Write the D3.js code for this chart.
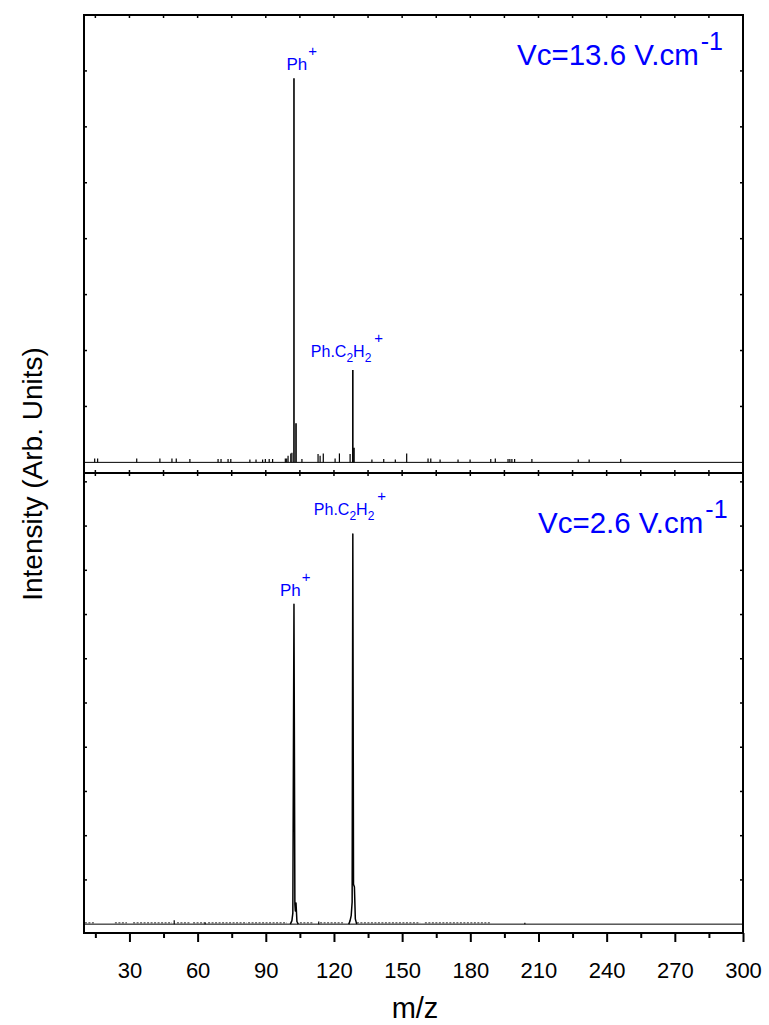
<!DOCTYPE html>
<html>
<head>
<meta charset="utf-8">
<script src="https://cdn.jsdelivr.net/npm/d3@7"></script>
<style>
  body { margin: 0; background: #fff; }
  svg { display: block; }
  text { font-family: "Liberation Sans", Arial, Helvetica, sans-serif; }
</style>
</head>
<body>
<svg id="chart" width="769" height="1025"></svg>
<script>
// ---- axis settings ----
const mzDomain = [10, 300];
const majorTicks = [30, 60, 90, 120, 150, 180, 210, 240, 270, 300];
const minorTicks = [15, 45, 75, 105, 135, 165, 195, 225, 255, 285];
const topYDomain = [-0.19, 8];
const topYTicks = [1, 2, 3, 4, 5, 6, 7];
const bottomYDomain = [-0.2, 10.2];
const bottomYTicks = [1, 2, 3, 4, 5, 6, 7, 8, 9, 10];

// ---- upper spectrum, Vc = 13.6 V/cm : line positions [m/z, intensity] ----
const topMainLines = [[102.4, 6.87], [103.3, 0.70], [128.3, 1.65], [128.8, 0.26]];
const topMinorLines = [
  [14.7, 0.07], [16.0, 0.07], [33.2, 0.07], [43.4, 0.07], [48.7, 0.07], [50.6, 0.07],
  [56.6, 0.06], [69.0, 0.06], [70.3, 0.06], [73.4, 0.06], [74.6, 0.06], [83.0, 0.05],
  [85.7, 0.05], [88.6, 0.05], [89.8, 0.06], [91.5, 0.06], [93.0, 0.06], [98.6, 0.07],
  [99.2, 0.07], [99.8, 0.12], [101.0, 0.16], [101.5, 0.17], [105.9, 0.06], [113.0, 0.15],
  [113.9, 0.12], [115.3, 0.16], [120.5, 0.07], [122.4, 0.16], [127.1, 0.15], [136.7, 0.05],
  [141.9, 0.06], [147.0, 0.05], [152.0, 0.16], [161.4, 0.07], [162.6, 0.07], [166.7, 0.05],
  [174.6, 0.05], [179.9, 0.05], [189.0, 0.06], [191.0, 0.07], [196.6, 0.06], [197.4, 0.06],
  [198.3, 0.06], [199.5, 0.06], [207.1, 0.06], [227.5, 0.05], [232.3, 0.05], [246.2, 0.06]
];

// ---- lower spectrum, Vc = 2.6 V/cm : peak profiles [m/z, intensity] ----
const bottomPhPeak = [
  [100.8, 0], [101.5, 0.08], [101.9, 0.25], [102.4, 7.23], [102.8, 0.45],
  [103.0, 0.3], [103.3, 0.48], [103.7, 0.06], [104.3, 0]
];
const bottomPhC2H2Peak = [
  [126.5, 0], [127.1, 0.08], [127.6, 0.2], [128.0, 0.5], [128.3, 8.82], [128.6, 0.9],
  [129.0, 0.84], [129.4, 0.12], [130.0, 0]
];
const bottomSmallLines = [[49.7, 0.09], [63.3, 0.04], [113.3, 0.06], [204.0, 0.03]];
// stretches where the noise floor sits just above zero
const bottomNoiseBands = [
  [10.4, 14.8], [23.6, 28.9], [31.6, 48.7], [50.9, 56.6], [58.0, 64.1], [64.6, 81.7],
  [82.2, 99.3], [105.0, 110.8], [113.9, 124.0], [130.1, 157.9], [160.0, 188.7]
];
const noiseLevel = 0.03;

// ---- labels ----
const blue = "#0000ff";

// ---- layout ----
const left = 84, right = 743;
const topPanel = { y0: 15, y1: 473 };
const bottomPanel = { y0: 473, y1: 933 };

const svg = d3.select("#chart");
svg.append("rect").attr("width", 769).attr("height", 1025).attr("fill", "#fff");

const x = d3.scaleLinear().domain(mzDomain).range([left, right]);
const yTop = d3.scaleLinear().domain(topYDomain).range([topPanel.y1, topPanel.y0]);
const yBot = d3.scaleLinear().domain(bottomYDomain).range([bottomPanel.y1, bottomPanel.y0]);

// baselines
[yTop, yBot].forEach(y => {
  svg.append("line")
    .attr("x1", left).attr("x2", right)
    .attr("y1", y(0)).attr("y2", y(0))
    .attr("stroke", "#000").attr("stroke-width", 1);
});

// upper spectrum lines
const gTop = svg.append("g");
gTop.selectAll("line.minor").data(topMinorLines).join("line")
  .attr("class", "minor")
  .attr("x1", d => x(d[0])).attr("x2", d => x(d[0]))
  .attr("y1", yTop(0)).attr("y2", d => yTop(d[1]))
  .attr("stroke", "#000").attr("stroke-width", 1.2);
gTop.selectAll("line.main").data(topMainLines).join("line")
  .attr("class", "main")
  .attr("x1", d => x(d[0])).attr("x2", d => x(d[0]))
  .attr("y1", yTop(0)).attr("y2", d => yTop(d[1]))
  .attr("stroke", "#000").attr("stroke-width", 1.6);

// lower spectrum
const gBot = svg.append("g");
gBot.selectAll("line.noise").data(bottomNoiseBands).join("line")
  .attr("class", "noise")
  .attr("x1", d => x(d[0])).attr("x2", d => x(d[1]))
  .attr("y1", yBot(noiseLevel)).attr("y2", yBot(noiseLevel))
  .attr("stroke", "#000").attr("stroke-width", 0.8)
  .attr("stroke-dasharray", "2,1.5");
gBot.selectAll("line.small").data(bottomSmallLines).join("line")
  .attr("class", "small")
  .attr("x1", d => x(d[0])).attr("x2", d => x(d[0]))
  .attr("y1", yBot(0)).attr("y2", d => yBot(d[1]))
  .attr("stroke", "#000").attr("stroke-width", 1.2);
const peakLine = d3.line().x(d => x(d[0])).y(d => yBot(d[1]));
[bottomPhPeak, bottomPhC2H2Peak].forEach(p => {
  gBot.append("path").attr("d", peakLine(p))
    .attr("fill", "none").attr("stroke", "#000").attr("stroke-width", 1.5)
    .attr("stroke-linejoin", "round");
});

// frames
const frame = svg.append("g").attr("fill", "none").attr("stroke", "#000").attr("stroke-width", 2);
frame.append("rect").attr("x", left).attr("y", topPanel.y0)
  .attr("width", right - left).attr("height", bottomPanel.y1 - topPanel.y0);
frame.append("line").attr("x1", left).attr("x2", right)
  .attr("y1", topPanel.y1).attr("y2", topPanel.y1);

// inward ticks on the top edge and on the panel divider
const allX = majorTicks.concat(minorTicks).filter(v => v < 300);
const tk = svg.append("g").attr("stroke", "#000").attr("stroke-width", 1.5);
allX.forEach(v => {
  tk.append("line").attr("x1", x(v)).attr("x2", x(v))
    .attr("y1", topPanel.y0).attr("y2", topPanel.y0 + 3);
  tk.append("line").attr("x1", x(v)).attr("x2", x(v))
    .attr("y1", topPanel.y1 - 3).attr("y2", topPanel.y1 + 3);
});
// inward ticks on the left and right edges
[[yTop, topYTicks], [yBot, bottomYTicks]].forEach(([y, ticks]) => {
  ticks.forEach(v => {
    tk.append("line").attr("x1", left).attr("x2", left + 3).attr("y1", y(v)).attr("y2", y(v));
    tk.append("line").attr("x1", right - 3).attr("x2", right).attr("y1", y(v)).attr("y2", y(v));
  });
});

// bottom m/z axis
const axis = d3.axisBottom(x).tickValues(majorTicks).tickSize(9).tickPadding(20);
const gAxis = svg.append("g").attr("transform", `translate(0,${bottomPanel.y1})`).call(axis);
gAxis.select(".domain").remove();
gAxis.selectAll(".tick line").attr("stroke", "#000").attr("stroke-width", 2);
gAxis.selectAll(".tick text")
  .attr("fill", "#000").attr("font-size", 22)
  .attr("font-family", "'Liberation Sans', Arial, sans-serif");
const axisMinor = d3.axisBottom(x).tickValues(minorTicks).tickSize(5).tickFormat("");
const gMinor = svg.append("g").attr("transform", `translate(0,${bottomPanel.y1})`).call(axisMinor);
gMinor.select(".domain").remove();
gMinor.selectAll(".tick line").attr("stroke", "#000").attr("stroke-width", 2);

// axis titles
svg.append("text")
  .attr("x", 415).attr("y", 1018)
  .attr("text-anchor", "middle").attr("font-size", 29)
  .text("m/z");
svg.append("text")
  .attr("transform", `translate(42,${(topPanel.y0 + bottomPanel.y1) / 2}) rotate(-90)`)
  .attr("text-anchor", "middle").attr("font-size", 28)
  .text("Intensity (Arb. Units)");

// peak labels
function ionLabel(px, py, parts) {
  const t = svg.append("text").attr("x", px).attr("y", py).attr("fill", blue);
  parts.forEach(p => {
    t.append("tspan").attr("font-size", p.size).attr("dy", p.dy || 0)
      .attr("dx", p.dx || 0).text(p.text);
  });
}
const phParts = [
  { text: "Ph", size: 17 },
  { text: "+", size: 15, dy: -14, dx: 1 }
];
const phc2h2Parts = [
  { text: "Ph.C", size: 16 },
  { text: "2", size: 12, dy: 5 },
  { text: "H", size: 16, dy: -5 },
  { text: "2", size: 12, dy: 5 },
  { text: "+", size: 15, dy: -19, dx: 3 }
];
ionLabel(x(102.4) - 7.5, yTop(6.87) - 8.5, phParts);
ionLabel(x(128.3) - 42, yTop(1.65) - 13, phc2h2Parts);
ionLabel(x(102.4) - 14, yBot(7.23) - 8, phParts);
ionLabel(x(128.3) - 39, yBot(8.82) - 19, phc2h2Parts);

// field strength annotations
function fieldLabel(px, py, value) {
  const t = svg.append("text").attr("x", px).attr("y", py).attr("fill", blue);
  t.append("tspan").attr("font-size", 29.5).text(`Vc=${value} V.cm`);
  t.append("tspan").attr("font-size", 25).attr("dy", -15).attr("dx", 2).text("-1");
}
fieldLabel(517, 65, "13.6");
fieldLabel(538, 533, "2.6");
</script>
</body>
</html>
